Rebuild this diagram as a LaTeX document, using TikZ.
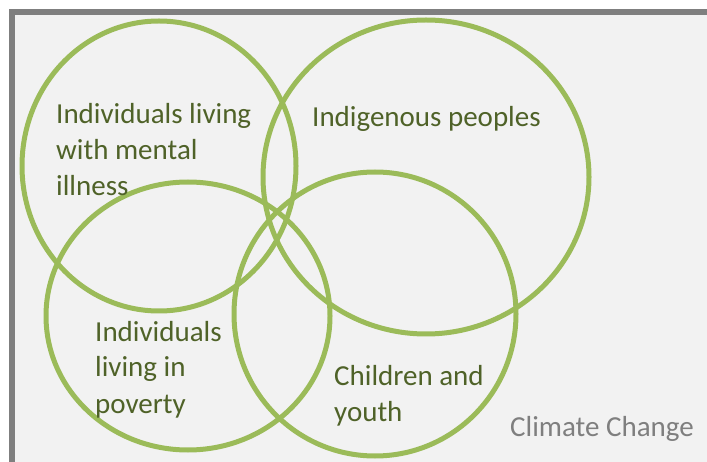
\documentclass[tikz,border=0pt]{standalone}
\usepackage{fontspec}
\setmainfont{Carlito}
\definecolor{ringgreen}{HTML}{9BBB59}
\definecolor{textgreen}{HTML}{4F6228}
\definecolor{framegray}{HTML}{7F7F7F}
\definecolor{panelfill}{HTML}{F2F2F2}
\begin{document}
\begin{tikzpicture}[x=1pt,y=-1pt,
  ring/.style={draw=ringgreen,line width=5pt},
  grouplabel/.style={text=textgreen,font=\fontsize{29}{36}\selectfont,align=left,inner sep=0pt,anchor=base west},
  ctxlabel/.style={text=framegray,font=\fontsize{29}{36}\selectfont,inner sep=0pt,anchor=base west}]
\useasboundingbox (0,0) rectangle (707,462);
\begin{scope}
\clip (0,0) rectangle (707,462);
\draw[draw=framegray,fill=panelfill,line width=5.5pt] (12,12) rectangle (730,490);
\end{scope}
\draw[ring] (159,166) ellipse [x radius=137,y radius=145];
\draw[ring] (426,177) ellipse [x radius=163,y radius=157];
\draw[ring] (188,316) ellipse [x radius=142,y radius=134];
\draw[ring] (375,314) ellipse [x radius=141,y radius=142];
\node[grouplabel] (mental) at (56,196) {Individuals living\\with mental\\illness};
\node[grouplabel] (indig) at (312,127) {Indigenous peoples};
\node[grouplabel] (poverty) at (95,413) {Individuals\\living in\\poverty};
\node[grouplabel] (youth) at (334,421) {Children and\\youth};
\node[ctxlabel] (climate) at (510,436) {Climate Change};
\end{tikzpicture}
\end{document}
